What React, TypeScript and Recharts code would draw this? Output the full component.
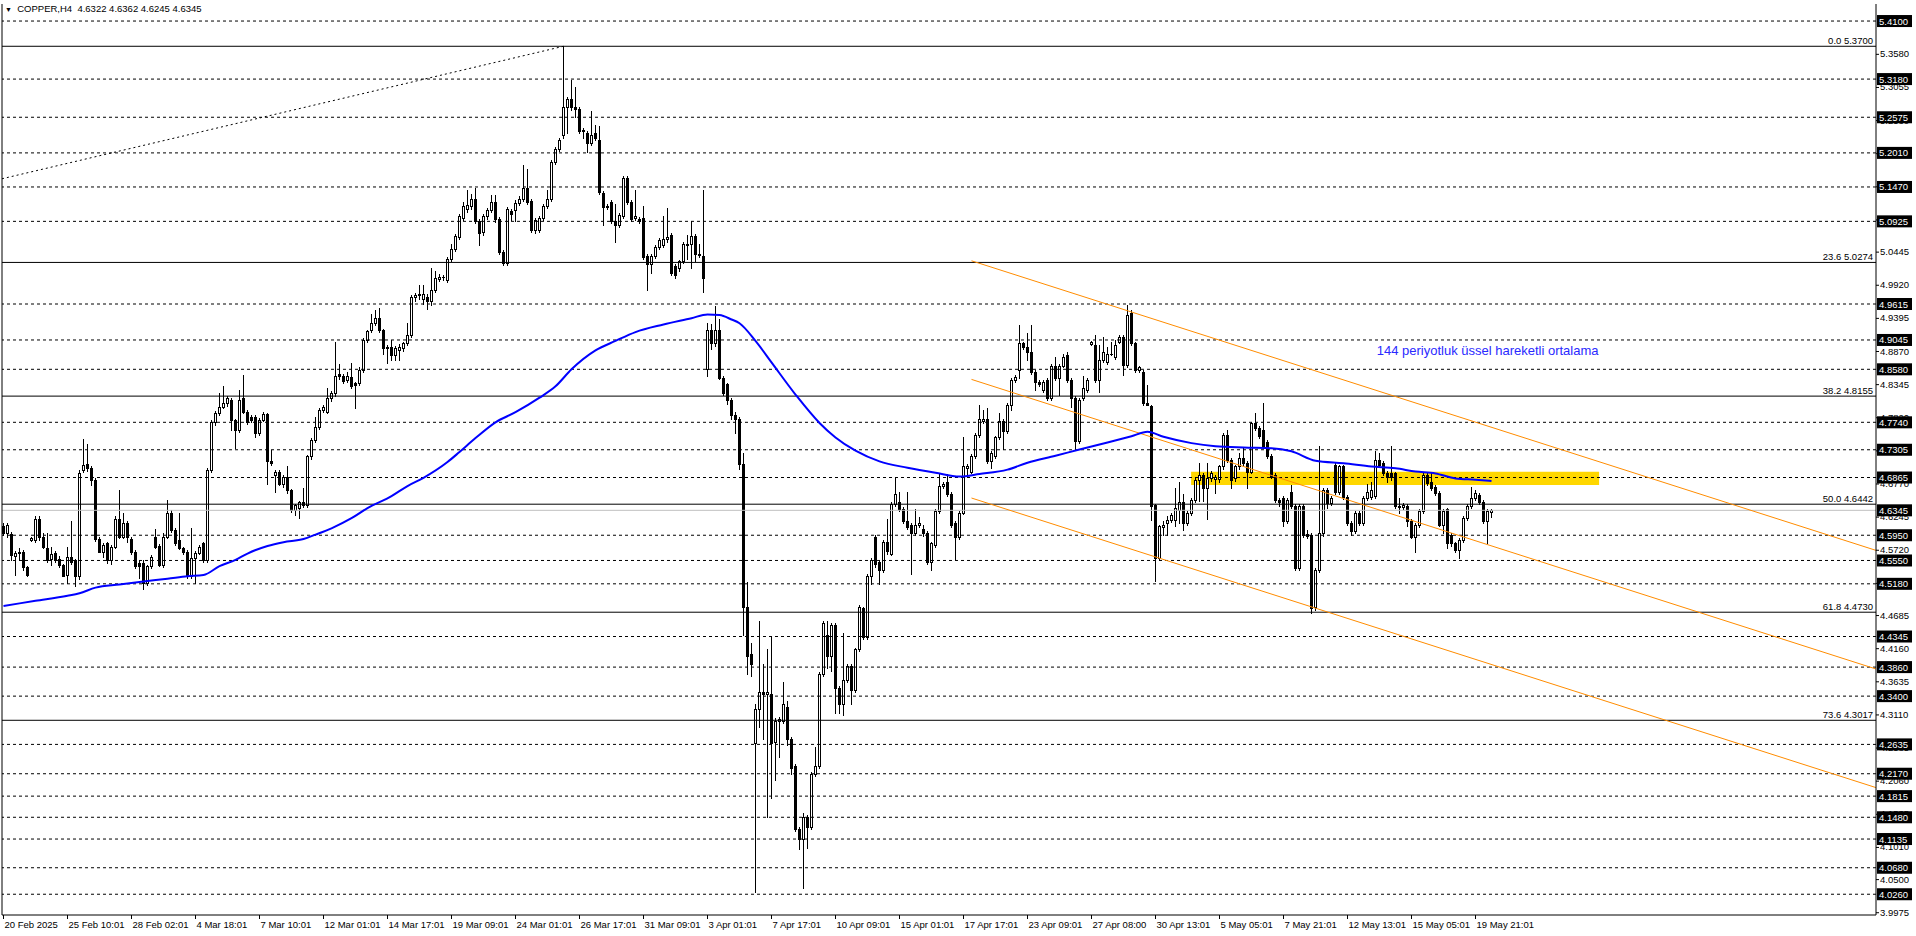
import { ComposedChart, Bar, Line, XAxis, YAxis, ReferenceLine, ReferenceArea, ReferenceDot } from 'recharts';

// [open, high, low, close] per H4 bar
type Candle = [number, number, number, number];

const febMarBars: Candle[] = [
  [4.610, 4.615, 4.595, 4.598], [4.598, 4.615, 4.592, 4.611], [4.597, 4.600, 4.555, 4.564], [4.562, 4.570, 4.532, 4.567],
  [4.567, 4.575, 4.556, 4.569], [4.569, 4.572, 4.540, 4.545], [4.545, 4.547, 4.531, 4.532], [4.588, 4.592, 4.586, 4.591],
  [4.588, 4.625, 4.585, 4.620], [4.620, 4.625, 4.588, 4.593], [4.593, 4.598, 4.575, 4.577], [4.575, 4.598, 4.553, 4.556],
  [4.557, 4.577, 4.548, 4.566], [4.567, 4.570, 4.552, 4.556], [4.558, 4.562, 4.545, 4.548], [4.548, 4.550, 4.530, 4.531],
  [4.532, 4.577, 4.519, 4.561], [4.561, 4.617, 4.550, 4.553], [4.555, 4.558, 4.514, 4.530], [4.530, 4.699, 4.525, 4.693],
  [4.699, 4.747, 4.695, 4.707], [4.708, 4.740, 4.697, 4.701], [4.701, 4.705, 4.675, 4.683], [4.683, 4.686, 4.586, 4.589],
  [4.589, 4.592, 4.568, 4.569], [4.569, 4.582, 4.561, 4.580], [4.583, 4.585, 4.551, 4.555], [4.555, 4.580, 4.550, 4.577],
  [4.577, 4.625, 4.575, 4.620], [4.620, 4.667, 4.590, 4.593], [4.593, 4.630, 4.590, 4.614], [4.614, 4.618, 4.585, 4.593],
  [4.589, 4.592, 4.566, 4.569], [4.569, 4.572, 4.543, 4.546], [4.551, 4.555, 4.527, 4.546], [4.551, 4.555, 4.510, 4.519],
  [4.519, 4.548, 4.516, 4.546], [4.546, 4.563, 4.543, 4.561], [4.592, 4.605, 4.574, 4.577], [4.578, 4.581, 4.546, 4.548],
  [4.548, 4.598, 4.545, 4.593], [4.593, 4.651, 4.590, 4.630], [4.630, 4.635, 4.600, 4.604], [4.604, 4.606, 4.580, 4.583],
  [4.588, 4.630, 4.573, 4.575], [4.575, 4.577, 4.566, 4.569], [4.569, 4.572, 4.527, 4.530], [4.530, 4.606, 4.527, 4.559],
  [4.559, 4.570, 4.519, 4.567], [4.567, 4.579, 4.565, 4.577], [4.582, 4.585, 4.553, 4.556], [4.556, 4.701, 4.553, 4.699],
  [4.699, 4.778, 4.695, 4.775], [4.775, 4.792, 4.770, 4.788], [4.788, 4.820, 4.785, 4.799], [4.799, 4.832, 4.796, 4.804],
  [4.804, 4.815, 4.800, 4.812], [4.809, 4.812, 4.762, 4.778], [4.778, 4.780, 4.733, 4.762], [4.762, 4.825, 4.758, 4.810],
  [4.812, 4.849, 4.788, 4.791], [4.791, 4.793, 4.771, 4.775], [4.783, 4.786, 4.775, 4.778], [4.783, 4.786, 4.751, 4.757],
  [4.757, 4.781, 4.754, 4.778], [4.778, 4.790, 4.776, 4.787], [4.787, 4.789, 4.677, 4.712], [4.712, 4.730, 4.706, 4.709],
  [4.690, 4.698, 4.664, 4.696], [4.696, 4.699, 4.674, 4.677], [4.677, 4.690, 4.672, 4.688], [4.687, 4.704, 4.662, 4.667],
  [4.667, 4.669, 4.632, 4.635], [4.635, 4.645, 4.627, 4.643], [4.638, 4.650, 4.622, 4.648], [4.648, 4.670, 4.640, 4.643],
  [4.643, 4.722, 4.640, 4.720], [4.720, 4.749, 4.716, 4.746], [4.746, 4.783, 4.742, 4.767], [4.767, 4.797, 4.764, 4.794],
  [4.794, 4.801, 4.790, 4.798], [4.791, 4.828, 4.788, 4.812], [4.812, 4.823, 4.807, 4.820], [4.820, 4.902, 4.816, 4.848],
  [4.850, 4.866, 4.843, 4.847], [4.847, 4.850, 4.836, 4.839], [4.841, 4.854, 4.838, 4.848], [4.846, 4.868, 4.828, 4.831],
  [4.836, 4.838, 4.796, 4.833], [4.836, 4.862, 4.833, 4.857], [4.857, 4.907, 4.854, 4.904], [4.904, 4.921, 4.901, 4.918],
  [4.920, 4.946, 4.917, 4.932], [4.932, 4.952, 4.929, 4.939], [4.939, 4.955, 4.917, 4.920], [4.920, 4.922, 4.883, 4.891],
  [4.891, 4.896, 4.868, 4.893],
];

const marAprBars: Candle[] = [
  [4.894, 4.905, 4.872, 4.880], [4.880, 4.895, 4.872, 4.891], [4.889, 4.898, 4.872, 4.893], [4.891, 4.902, 4.887, 4.899],
  [4.899, 4.932, 4.896, 4.913], [4.913, 4.976, 4.910, 4.973], [4.973, 4.979, 4.967, 4.975], [4.975, 4.992, 4.970, 4.977],
  [4.969, 4.992, 4.962, 4.978], [4.973, 4.978, 4.954, 4.967], [4.967, 5.019, 4.960, 4.984], [4.984, 5.014, 4.980, 5.003],
  [5.001, 5.009, 4.998, 5.004], [5.004, 5.008, 5.000, 5.004], [5.000, 5.036, 4.997, 5.033], [5.033, 5.057, 5.029, 5.049],
  [5.049, 5.073, 5.045, 5.070], [5.068, 5.104, 5.065, 5.101], [5.098, 5.123, 5.094, 5.117], [5.112, 5.142, 5.108, 5.118],
  [5.117, 5.136, 5.112, 5.128], [5.128, 5.145, 5.090, 5.093], [5.093, 5.096, 5.055, 5.074], [5.076, 5.104, 5.071, 5.101],
  [5.101, 5.114, 5.097, 5.111], [5.111, 5.134, 5.108, 5.123], [5.123, 5.134, 5.092, 5.096], [5.096, 5.099, 5.040, 5.044],
  [5.044, 5.047, 5.024, 5.026], [5.026, 5.115, 5.024, 5.112], [5.109, 5.112, 5.094, 5.104], [5.110, 5.126, 5.093, 5.122],
  [5.121, 5.132, 5.118, 5.128], [5.128, 5.182, 5.125, 5.145], [5.145, 5.175, 5.120, 5.123], [5.125, 5.128, 5.075, 5.079],
  [5.079, 5.098, 5.074, 5.095], [5.079, 5.101, 5.075, 5.098], [5.098, 5.120, 5.095, 5.117], [5.117, 5.142, 5.114, 5.128],
  [5.128, 5.189, 5.125, 5.186], [5.186, 5.210, 5.183, 5.207], [5.207, 5.224, 5.204, 5.221], [5.229, 5.370, 5.225, 5.273],
  [5.273, 5.290, 5.232, 5.287], [5.287, 5.316, 5.269, 5.273], [5.273, 5.305, 5.258, 5.270], [5.270, 5.273, 5.232, 5.235],
  [5.235, 5.241, 5.225, 5.238], [5.233, 5.236, 5.202, 5.216], [5.216, 5.268, 5.213, 5.229], [5.232, 5.246, 5.221, 5.224],
  [5.222, 5.243, 5.136, 5.139], [5.137, 5.140, 5.087, 5.115], [5.115, 5.120, 5.112, 5.117], [5.123, 5.126, 5.090, 5.093],
  [5.093, 5.120, 5.060, 5.087], [5.087, 5.105, 5.084, 5.102], [5.101, 5.164, 5.098, 5.161], [5.161, 5.164, 5.120, 5.123],
  [5.123, 5.126, 5.093, 5.096], [5.098, 5.142, 5.094, 5.101], [5.097, 5.100, 5.090, 5.093], [5.098, 5.117, 5.033, 5.036],
  [5.038, 5.041, 4.984, 5.025], [5.025, 5.041, 5.011, 5.038], [5.038, 5.055, 5.035, 5.052], [5.052, 5.066, 5.049, 5.063],
  [5.055, 5.101, 5.052, 5.065], [5.064, 5.114, 5.060, 5.067], [5.071, 5.074, 5.008, 5.011], [5.022, 5.025, 5.003, 5.008],
  [5.019, 5.032, 5.014, 5.029], [5.029, 5.060, 5.026, 5.057], [5.057, 5.071, 5.033, 5.055], [5.057, 5.093, 5.019, 5.070],
  [5.070, 5.073, 5.030, 5.041], [5.041, 5.057, 5.036, 5.039], [5.038, 5.142, 4.981, 5.003], [4.858, 4.931, 4.847, 4.921],
  [4.921, 4.930, 4.890, 4.899], [4.899, 4.959, 4.895, 4.921], [4.921, 4.937, 4.842, 4.845], [4.845, 4.848, 4.817, 4.820],
  [4.834, 4.837, 4.803, 4.809], [4.809, 4.812, 4.780, 4.785], [4.785, 4.791, 4.757, 4.779], [4.779, 4.782, 4.700, 4.708],
];

const aprMayBars: Candle[] = [
  [4.708, 4.725, 4.437, 4.482], [4.482, 4.521, 4.375, 4.404], [4.407, 4.424, 4.372, 4.391], [4.265, 4.327, 4.029, 4.320],
  [4.320, 4.459, 4.291, 4.346], [4.346, 4.391, 4.272, 4.343], [4.343, 4.414, 4.149, 4.346], [4.343, 4.433, 4.178, 4.265],
  [4.268, 4.305, 4.207, 4.301], [4.301, 4.307, 4.243, 4.304], [4.301, 4.362, 4.298, 4.327], [4.323, 4.333, 4.262, 4.272],
  [4.272, 4.275, 4.217, 4.226], [4.229, 4.232, 4.126, 4.129], [4.129, 4.132, 4.097, 4.113], [4.113, 4.155, 4.036, 4.149],
  [4.149, 4.152, 4.100, 4.133], [4.133, 4.220, 4.130, 4.217], [4.217, 4.259, 4.213, 4.230], [4.230, 4.378, 4.226, 4.375],
  [4.375, 4.459, 4.372, 4.456], [4.437, 4.459, 4.385, 4.404], [4.404, 4.456, 4.380, 4.453], [4.453, 4.456, 4.314, 4.353],
  [4.353, 4.356, 4.314, 4.327], [4.327, 4.440, 4.310, 4.366], [4.366, 4.391, 4.362, 4.388], [4.388, 4.391, 4.327, 4.349],
  [4.349, 4.417, 4.346, 4.414], [4.414, 4.485, 4.411, 4.482], [4.479, 4.482, 4.431, 4.434], [4.434, 4.534, 4.430, 4.531],
  [4.531, 4.559, 4.518, 4.556], [4.592, 4.595, 4.545, 4.550], [4.553, 4.556, 4.518, 4.540], [4.540, 4.588, 4.537, 4.585],
  [4.585, 4.621, 4.566, 4.570], [4.566, 4.647, 4.563, 4.644], [4.644, 4.685, 4.641, 4.660], [4.647, 4.663, 4.634, 4.637],
  [4.637, 4.640, 4.615, 4.618], [4.618, 4.663, 4.605, 4.608], [4.611, 4.614, 4.534, 4.598], [4.598, 4.637, 4.595, 4.611],
  [4.611, 4.624, 4.608, 4.614], [4.605, 4.611, 4.594, 4.598], [4.598, 4.601, 4.550, 4.553], [4.553, 4.585, 4.540, 4.582],
  [4.579, 4.637, 4.576, 4.634], [4.634, 4.692, 4.631, 4.673], [4.673, 4.679, 4.670, 4.676], [4.679, 4.692, 4.657, 4.660],
  [4.660, 4.663, 4.608, 4.611], [4.614, 4.617, 4.556, 4.592], [4.592, 4.634, 4.589, 4.631], [4.631, 4.750, 4.628, 4.705],
  [4.702, 4.708, 4.690, 4.705], [4.696, 4.724, 4.693, 4.721], [4.721, 4.757, 4.718, 4.754], [4.754, 4.802, 4.751, 4.780],
  [4.776, 4.793, 4.773, 4.780], [4.780, 4.796, 4.709, 4.712], [4.712, 4.728, 4.702, 4.725], [4.721, 4.753, 4.718, 4.750],
  [4.750, 4.789, 4.747, 4.776], [4.776, 4.779, 4.731, 4.760], [4.760, 4.805, 4.757, 4.802], [4.802, 4.844, 4.793, 4.841],
  [4.841, 4.849, 4.838, 4.846], [4.857, 4.928, 4.844, 4.899], [4.899, 4.902, 4.890, 4.893], [4.893, 4.915, 4.873, 4.886],
  [4.886, 4.928, 4.851, 4.854], [4.854, 4.857, 4.825, 4.838], [4.838, 4.841, 4.832, 4.835], [4.825, 4.841, 4.822, 4.838],
  [4.841, 4.844, 4.809, 4.812], [4.812, 4.867, 4.809, 4.864], [4.864, 4.877, 4.841, 4.845], [4.845, 4.867, 4.818, 4.864],
  [4.864, 4.883, 4.861, 4.877], [4.880, 4.886, 4.838, 4.841], [4.841, 4.844, 4.799, 4.812], [4.812, 4.815, 4.731, 4.744],
  [4.744, 4.812, 4.741, 4.809], [4.812, 4.848, 4.809, 4.828], [4.825, 4.844, 4.822, 4.841], [4.898, 4.903, 4.896, 4.901],
  [4.896, 4.912, 4.838, 4.841], [4.841, 4.896, 4.822, 4.873], [4.873, 4.909, 4.870, 4.886], [4.870, 4.893, 4.867, 4.883],
  [4.883, 4.902, 4.880, 4.883],
];

const mayBars: Candle[] = [
  [4.878, 4.905, 4.875, 4.897], [4.902, 4.913, 4.899, 4.910], [4.910, 4.913, 4.849, 4.865], [4.865, 4.960, 4.862, 4.944],
  [4.947, 4.952, 4.896, 4.899], [4.899, 4.902, 4.854, 4.857], [4.857, 4.863, 4.854, 4.861], [4.853, 4.857, 4.801, 4.804],
  [4.804, 4.833, 4.801, 4.802], [4.800, 4.802, 4.619, 4.641], [4.643, 4.645, 4.522, 4.559], [4.559, 4.612, 4.555, 4.609],
  [4.608, 4.617, 4.596, 4.612], [4.614, 4.625, 4.596, 4.619], [4.619, 4.631, 4.616, 4.627], [4.619, 4.670, 4.610, 4.638],
  [4.635, 4.680, 4.614, 4.648], [4.648, 4.660, 4.604, 4.614], [4.614, 4.633, 4.611, 4.630], [4.630, 4.654, 4.627, 4.651],
  [4.651, 4.686, 4.648, 4.683], [4.683, 4.709, 4.649, 4.691], [4.691, 4.694, 4.649, 4.670], [4.670, 4.709, 4.620, 4.685],
  [4.685, 4.697, 4.681, 4.693], [4.684, 4.690, 4.662, 4.687], [4.684, 4.707, 4.680, 4.704], [4.704, 4.757, 4.700, 4.754],
  [4.754, 4.762, 4.711, 4.715], [4.715, 4.717, 4.670, 4.683], [4.685, 4.707, 4.681, 4.704], [4.704, 4.725, 4.700, 4.717],
  [4.717, 4.733, 4.706, 4.709], [4.709, 4.712, 4.670, 4.696], [4.696, 4.775, 4.693, 4.773], [4.773, 4.788, 4.762, 4.765],
  [4.765, 4.768, 4.749, 4.752], [4.762, 4.804, 4.733, 4.736], [4.743, 4.746, 4.717, 4.720], [4.720, 4.723, 4.685, 4.688],
  [4.690, 4.693, 4.648, 4.651], [4.651, 4.654, 4.641, 4.647], [4.654, 4.657, 4.609, 4.617], [4.617, 4.654, 4.614, 4.651],
  [4.664, 4.675, 4.638, 4.641], [4.641, 4.644, 4.540, 4.543], [4.543, 4.644, 4.540, 4.641], [4.641, 4.644, 4.593, 4.596],
  [4.597, 4.604, 4.590, 4.594], [4.596, 4.598, 4.472, 4.480], [4.482, 4.543, 4.476, 4.540], [4.540, 4.736, 4.537, 4.598],
  [4.598, 4.670, 4.594, 4.667], [4.667, 4.670, 4.638, 4.646], [4.646, 4.657, 4.643, 4.654], [4.706, 4.709, 4.661, 4.664],
  [4.664, 4.707, 4.661, 4.704], [4.704, 4.707, 4.653, 4.656], [4.656, 4.659, 4.611, 4.614], [4.614, 4.617, 4.596, 4.601],
  [4.601, 4.633, 4.598, 4.630], [4.630, 4.633, 4.611, 4.614], [4.614, 4.657, 4.611, 4.654], [4.654, 4.677, 4.651, 4.664],
  [4.656, 4.680, 4.653, 4.667], [4.657, 4.728, 4.654, 4.714], [4.714, 4.725, 4.703, 4.706], [4.709, 4.712, 4.690, 4.693],
  [4.694, 4.697, 4.680, 4.688], [4.693, 4.736, 4.683, 4.688], [4.693, 4.696, 4.638, 4.641], [4.642, 4.654, 4.630, 4.640],
  [4.640, 4.646, 4.636, 4.643], [4.641, 4.644, 4.609, 4.617], [4.617, 4.620, 4.590, 4.593], [4.593, 4.614, 4.569, 4.611],
  [4.611, 4.636, 4.608, 4.633], [4.633, 4.694, 4.630, 4.691], [4.691, 4.694, 4.675, 4.678], [4.680, 4.693, 4.667, 4.670],
  [4.672, 4.675, 4.659, 4.662], [4.662, 4.665, 4.609, 4.612], [4.612, 4.636, 4.598, 4.633], [4.636, 4.638, 4.575, 4.582],
  [4.596, 4.599, 4.578, 4.582], [4.582, 4.585, 4.569, 4.572], [4.572, 4.591, 4.559, 4.588], [4.588, 4.625, 4.585, 4.622],
  [4.622, 4.644, 4.619, 4.641], [4.641, 4.672, 4.638, 4.654], [4.654, 4.667, 4.651, 4.662], [4.659, 4.662, 4.644, 4.647],
  [4.648, 4.651, 4.614, 4.617], [4.617, 4.636, 4.582, 4.633], [4.6322, 4.6362, 4.6245, 4.6345],
];

// 144 EMA read at sampled bars
const emaBars = [0, 8, 16, 19, 23, 29, 34, 41, 46, 50, 54, 58, 61, 66, 70, 75, 78, 82, 87, 91, 97, 101, 105, 111, 114,
  118, 123, 128, 134, 138, 142, 148, 153, 158, 165, 172, 176, 179, 182, 184, 188, 192, 198, 204, 208, 213, 219, 226,
  233, 239, 244, 251, 256, 263, 269, 276, 282, 286, 290, 297, 303, 310, 317, 322, 328, 335, 342, 348, 353, 358, 363,
  368, 372];
const emaValues = [4.483, 4.491, 4.499, 4.503, 4.512, 4.517, 4.521, 4.526, 4.530, 4.532, 4.546, 4.556, 4.566, 4.578,
  4.584, 4.589, 4.596, 4.606, 4.622, 4.638, 4.657, 4.673, 4.686, 4.711, 4.727, 4.749, 4.774, 4.790, 4.813, 4.831,
  4.858, 4.888, 4.903, 4.917, 4.929, 4.939, 4.945, 4.944, 4.937, 4.931, 4.903, 4.869, 4.818, 4.773, 4.750, 4.729,
  4.712, 4.702, 4.694, 4.688, 4.692, 4.699, 4.710, 4.721, 4.731, 4.742, 4.752, 4.759, 4.751, 4.741, 4.736, 4.734,
  4.733, 4.728, 4.713, 4.709, 4.704, 4.701, 4.696, 4.693, 4.685, 4.683, 4.681];

const timeTickBars = [0, 16, 32, 48, 64, 80, 96, 112, 128, 144, 160, 176, 192, 208, 224, 240, 256, 272, 288, 304, 320, 336, 352, 368];
const timeLabels = ['20 Feb 2025', '25 Feb 10:01', '28 Feb 02:01', '4 Mar 18:01', '7 Mar 10:01', '12 Mar 01:01',
  '14 Mar 17:01', '19 Mar 09:01', '24 Mar 01:01', '26 Mar 17:01', '31 Mar 09:01', '3 Apr 01:01', '7 Apr 17:01',
  '10 Apr 09:01', '15 Apr 01:01', '17 Apr 17:01', '23 Apr 09:01', '27 Apr 08:00', '30 Apr 13:01', '5 May 05:01',
  '7 May 21:01', '12 May 13:01', '15 May 05:01', '19 May 21:01'];

const priceTicks = [5.3580, 5.3055, 5.2530, 5.2005, 5.1480, 5.0955, 5.0445, 4.9920, 4.9395, 4.8870, 4.8345, 4.7820,
  4.7295, 4.6770, 4.6245, 4.5720, 4.5195, 4.4685, 4.4160, 4.3635, 4.3110, 4.2585, 4.2060, 4.1535, 4.1010, 4.0500, 3.9975];
const levelPrices = [5.4100, 5.3180, 5.2575, 5.2010, 5.1470, 5.0925, 4.9615, 4.9045, 4.8580, 4.7740, 4.7305, 4.6865,
  4.5950, 4.5550, 4.5180, 4.4345, 4.3860, 4.3400, 4.2635, 4.2170, 4.1815, 4.1480, 4.1135, 4.0680, 4.0260];
const fibPercents = ['0.0', '23.6', '38.2', '50.0', '61.8', '73.6'];
const fibPrices = [5.3700, 5.0274, 4.8155, 4.6442, 4.4730, 4.3017];
const lastPrice = 4.6345;
const ohlcHeader = [4.6322, 4.6362, 4.6245, 4.6345];

// drawn objects (bar index, price)
const fibBase = { x1: -0.375, y1: 5.1600, x2: 140, y2: 5.3700 };
const channelX = [242, 468.125];
const channelUpper = [5.030, 4.571];
const channelMiddle = [4.842, 4.383];
const channelLower = [4.654, 4.195];
const zone = { x1: 296.9, x2: 398.9, y1: 4.6746, y2: 4.6957 };
const emaNote = { x: 343.3, y: 4.8875, text: '144 periyotluk üssel hareketli ortalama' };

const FONT = '"Liberation Sans", Arial, sans-serif';
const ORANGE = '#FF8C00';

const allBars = [...febMarBars, ...marAprBars, ...aprMayBars, ...mayBars];
const emaAt = new Map(emaBars.map((b, k) => [b, emaValues[k]]));
const rows = allBars.map((c, i) => ({
  i, o: c[0], h: c[1], l: c[2], c: c[3], range: [c[2], c[1]], ema: emaAt.has(i) ? emaAt.get(i) : null,
}));

const CandleShape = (props: any) => {
  const { x, y, width, height, payload } = props;
  if (!payload || height == null) return null;
  const { o, h, l, c } = payload;
  const ppu = h > l ? height / (h - l) : 0;
  const py = (p: number) => y + (h - p) * ppu;
  const cx = Math.floor(x + width / 2) + 0.5;
  const top = Math.round(py(Math.max(o, c)));
  const bot = Math.round(py(Math.min(o, c)));
  const up = c >= o;
  return (
    <g>
      <line x1={cx} x2={cx} y1={Math.round(py(h))} y2={Math.round(py(l)) + 1} stroke="#000" strokeWidth={1} />
      {bot - top < 1 ? (
        <line x1={cx - 1.5} x2={cx + 1.5} y1={top + 0.5} y2={top + 0.5} stroke="#000" strokeWidth={1} />
      ) : (
        <rect x={cx - 1} y={top + 0.5} width={2} height={bot - top} fill={up ? '#fff' : '#000'} stroke="#000" strokeWidth={1} />
      )}
    </g>
  );
};

const PriceTick = (props: any) => {
  const { x, y, payload } = props;
  const v = payload.value as number;
  const boxed = levelPrices.includes(v) || v === lastPrice;
  if (boxed) {
    return (
      <g>
        <rect x={x + 1} y={y - 6} width={35} height={12} fill="#000" />
        <text x={x + 3} y={y + 3.5} fill="#fff" fontSize={9.5} fontFamily={FONT}>{v.toFixed(4)}</text>
      </g>
    );
  }
  return (
    <g>
      <line x1={x} x2={x + 3} y1={y + 0.5} y2={y + 0.5} stroke="#000" />
      <text x={x + 4} y={y + 3.5} fill="#000" fontSize={9.5} fontFamily={FONT}>{v.toFixed(4)}</text>
    </g>
  );
};

const TimeTick = (props: any) => {
  const { x, y, payload } = props;
  const k = timeTickBars.indexOf(payload.value);
  const px = Math.floor(x) + 0.5;
  return (
    <g>
      <line x1={px} x2={px} y1={y} y2={y + 4} stroke="#000" />
      <text x={px + 1} y={y + 13} fill="#000" fontSize={9.5} fontFamily={FONT}>{timeLabels[k]}</text>
    </g>
  );
};

const fibLabel = (text: string) => (props: any) => {
  const vb = props.viewBox;
  if (!vb) return null;
  return (
    <text x={vb.x + vb.width - 3} y={vb.y - 2} textAnchor="end" fill="#000" fontSize={9.5} fontFamily={FONT}>{text}</text>
  );
};

const noteLabel = (props: any) => {
  const vb = props.viewBox;
  if (!vb) return null;
  const px = vb.cx ?? vb.x;
  const py = vb.cy ?? vb.y;
  return (
    <text x={px} y={py + 4.5} fill="#2a2aff" fontSize={13} fontFamily={FONT}>{emaNote.text}</text>
  );
};

export default function App() {
  const priceAxisTicks = [...priceTicks, ...levelPrices, lastPrice];
  return (
    <div style={{ position: 'absolute', left: 0, top: 0, width: 1916, height: 936, background: '#fff', overflow: 'hidden' }}>
      <ComposedChart
        width={1916}
        height={936}
        data={rows}
        margin={{ top: 4, right: 0, bottom: 0, left: 2 }}
        style={{ fontFamily: FONT }}
      >
        <XAxis
          dataKey="i"
          type="number"
          domain={[-0.375, 468.125]}
          allowDataOverflow
          ticks={timeTickBars}
          interval={0}
          tick={TimeTick}
          tickSize={0}
          tickMargin={0}
          tickLine={false}
          height={21}
          axisLine={{ stroke: '#000' }}
        />
        <YAxis
          orientation="right"
          type="number"
          domain={[3.9931, 5.437]}
          allowDataOverflow
          ticks={priceAxisTicks}
          interval={0}
          tick={PriceTick}
          tickSize={0}
          tickMargin={0}
          tickLine={false}
          width={40}
          axisLine={{ stroke: '#000' }}
        />
        <ReferenceArea x1={zone.x1} x2={zone.x2} y1={zone.y1} y2={zone.y2} fill="#FFD700" fillOpacity={1} stroke="none" />
        {levelPrices.map((p) => (
          <ReferenceLine key={`lv${p}`} y={p} stroke="#000" strokeDasharray="3 3" />
        ))}
        <ReferenceLine y={lastPrice} stroke="#C0C0C0" />
        {fibPrices.map((p, k) => (
          <ReferenceLine key={`fib${p}`} y={p} stroke="#000" label={fibLabel(`${fibPercents[k]} ${p.toFixed(4)}`)} />
        ))}
        <ReferenceLine
          segment={[{ x: fibBase.x1, y: fibBase.y1 }, { x: fibBase.x2, y: fibBase.y2 }]}
          stroke="#000"
          strokeDasharray="2 3"
        />
        {[channelUpper, channelMiddle, channelLower].map((ch, k) => (
          <ReferenceLine
            key={`ch${k}`}
            segment={[{ x: channelX[0], y: ch[0] }, { x: channelX[1], y: ch[1] }]}
            stroke={ORANGE}
          />
        ))}
        <Bar dataKey="range" barSize={3} shape={CandleShape} isAnimationActive={false} />
        <Line
          dataKey="ema"
          type="monotone"
          connectNulls
          dot={false}
          activeDot={false}
          stroke="#0000FF"
          strokeWidth={2}
          isAnimationActive={false}
        />
        <ReferenceDot x={emaNote.x} y={emaNote.y} r={0} fill="none" stroke="none" label={noteLabel} />
        <ReferenceLine x={-0.375} stroke="#000" />
      </ComposedChart>
      <div style={{ position: 'absolute', left: 5, top: 3, fontFamily: FONT, fontSize: 9.5, lineHeight: '12px', color: '#000', whiteSpace: 'pre' }}>
        <span style={{ fontSize: 7 }}>▼</span>  COPPER,H4  {ohlcHeader.map((v) => v.toFixed(4)).join(' ')}
      </div>
    </div>
  );
}
